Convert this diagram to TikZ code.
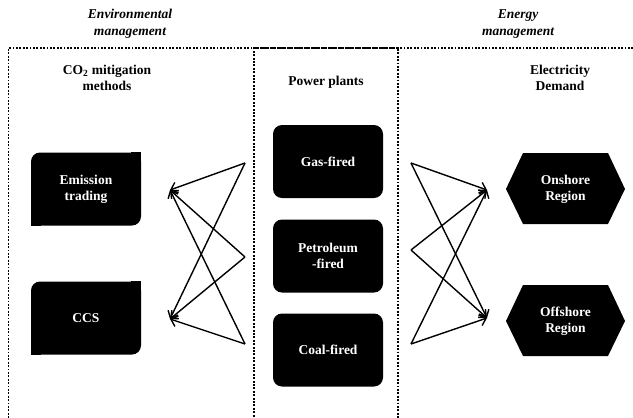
\documentclass[tikz,border=0pt]{standalone}
\usepackage{fontspec}
\setmainfont{Liberation Serif}
\usetikzlibrary{arrows.meta}
\begin{document}
\begin{tikzpicture}[x=1pt,y=-1pt,
	frame/.style={line width=1.9pt,dash pattern=on 1.9pt off 1.5pt},
	head/.style={font=\bfseries\itshape\fontsize{13.5}{16.5}\selectfont,align=center},
	title/.style={font=\bfseries\fontsize{13.5}{16}\selectfont,align=center},
	boxtext/.style={text=white,font=\bfseries\fontsize{13.5}{16}\selectfont,align=center},
	plant/.style={boxtext,fill=black,rounded corners=9pt,minimum width=110pt,minimum height=73pt},
	flow/.style={-{Straight Barb[length=6pt,width=11pt]},line width=1.4pt}]
		\useasboundingbox (0,0) rectangle (633,418);
		\clip (0,0) rectangle (633,418);
		\draw[frame] (640,48) -- (8.5,48) -- (8.5,425);
		\draw[frame,dash phase=1.7pt] (254,425) -- (254,48) -- (398,48) -- (398,425);
		\node[head] (envhead) at (130,24) {Environmental\\management};
		\node[head] (enghead) at (518,24) {Energy\\management};
		\node[title] (co2) at (107,78) {CO\textsubscript{2} mitigation\\methods};
		\node[title] (plants) at (326,82) {Power plants};
		\node[title] (demand) at (560,78) {Electricity\\Demand};
		\node[plant] (gas) at (328,161.5) {Gas-fired};
		\node[plant] (petrol) at (328,256) {Petroleum\\-fired};
		\node[plant] (coal) at (328,350) {Coal-fired};
		\node[plant] (trade) at (86,189) {Emission\\trading};
		\node[plant] (ccs) at (86,318) {CCS};
		\fill[black] (trade.north east) rectangle ++(-10,12);
		\fill[black] (trade.south west) rectangle ++(10,-12);
		\fill[black] (ccs.north east) rectangle ++(-10,12);
		\fill[black] (ccs.south west) rectangle ++(10,-12);
		\fill[black] (506,189) -- ++(17,-36) -- ++(85,0) -- ++(17,36) -- ++(-17,35) -- ++(-85,0) -- cycle;
		\fill[black] (506,321) -- ++(17,-36) -- ++(85,0) -- ++(17,36) -- ++(-17,35) -- ++(-85,0) -- cycle;
		\node[boxtext] (onshore) at (565.5,189) {Onshore\\Region};
		\node[boxtext] (offshore) at (565.5,321) {Offshore\\Region};
		\coordinate (gasL) at (245,163);
		\coordinate (petrolL) at (245,257);
		\coordinate (coalL) at (245,344);
		\coordinate (tradeIn) at (170,190);
		\coordinate (ccsIn) at (170,319);
		\coordinate (gasR) at (411,163);
		\coordinate (petrolR) at (411,250);
		\coordinate (coalR) at (411,344);
		\coordinate (onIn) at (487,190);
		\coordinate (offIn) at (487,318);
		\foreach \s in {gasL,petrolL,coalL}
			\foreach \t in {tradeIn,ccsIn}
				\draw[flow] (\s) -- (\t);
		\foreach \s in {gasR,petrolR,coalR}
			\foreach \t in {onIn,offIn}
				\draw[flow] (\s) -- (\t);
\end{tikzpicture}
\end{document}
